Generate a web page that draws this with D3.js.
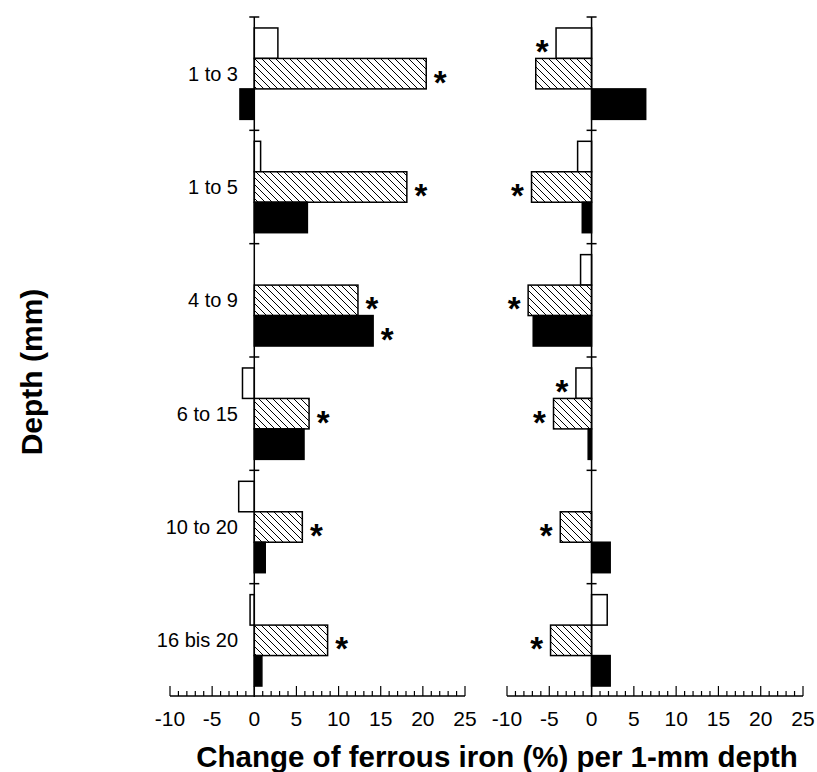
<!DOCTYPE html>
<html><head><meta charset="utf-8">
<script src="https://cdn.jsdelivr.net/npm/d3@7"></script>
<style>body{margin:0;background:#fff}svg{display:block}text{font-family:"Liberation Sans",Arial,Helvetica,sans-serif}</style>
</head><body>
<script>
const categories = ["1 to 3","1 to 5","4 to 9","6 to 15","10 to 20","16 bis 20"];
const series = ["open","hatched","solid"];
const leftOpen    = [2.8, 0.75, 0, -1.4, -1.85, -0.5];
const leftHatched = [20.4, 18.1, 12.3, 6.5, 5.7, 8.7];
const leftSolid   = [-1.7, 6.3, 14.1, 5.9, 1.3, 0.9];
const rightOpen    = [-4.2, -1.65, -1.3, -1.85, 0, 1.85];
const rightHatched = [-6.6, -7.1, -7.5, -4.5, -3.7, -4.85];
const rightSolid   = [6.4, -1.1, -6.9, -0.4, 2.2, 2.2];
const leftSig    = {open:[0,0,0,0,0,0], hatched:[1,1,1,1,1,1], solid:[0,0,1,0,0,0]};
const rightSig   = {open:[1,0,0,1,0,0], hatched:[0,1,1,1,1,1], solid:[0,0,0,0,0,0]};
const xTicks = [-10,-5,0,5,10,15,20,25];
const xTitle = "Change of ferrous iron (%) per 1-mm depth";
const yTitle = "Depth (mm)";

const W = 817, H = 772;
const svg = d3.select("body").append("svg").attr("width", W).attr("height", H);
const defs = svg.append("defs");
const pat = defs.append("pattern").attr("id","hatch").attr("patternUnits","userSpaceOnUse")
  .attr("width",7).attr("height",7);
pat.append("rect").attr("width",7).attr("height",7).attr("fill","#fff");
pat.append("path").attr("d","M0,0L7,7M-1,6L1,8M6,-1L8,1").attr("stroke","#000").attr("stroke-width",1);

const y0 = d3.scaleBand().domain(categories).range([17, 697]);
const y1 = d3.scaleBand().domain(series).range([0, y0.bandwidth()]).paddingOuter(0.36);
const fills = {open:"#fff", hatched:"url(#hatch)", solid:"#000"};

function panel(range, data, sig) {
  const x = d3.scaleLinear().domain([-10, 25]).range(range);
  const g = svg.append("g");
  const rows = [];
  categories.forEach((c, i) => series.forEach(s => rows.push({c, s, v: data[s][i], sig: sig[s][i]})));
  g.selectAll("rect.bar").data(rows).join("rect").attr("class","bar")
    .attr("x", d => x(Math.min(0, d.v)))
    .attr("width", d => Math.abs(x(d.v) - x(0)))
    .attr("y", d => y0(d.c) + y1(d.s))
    .attr("height", y1.bandwidth())
    .attr("fill", d => fills[d.s])
    .attr("stroke", "#000").attr("stroke-width", 1.5);
  g.append("line").attr("x1", x(0)).attr("x2", x(0)).attr("y1", 17).attr("y2", 697)
    .attr("stroke","#000").attr("stroke-width",1.5);
  g.selectAll("line.sep").data(categories).join("line").attr("class","sep")
    .attr("x1", x(0) - 5).attr("x2", x(0) + 5)
    .attr("y1", d => y0(d)).attr("y2", d => y0(d))
    .attr("stroke","#000").attr("stroke-width",1.5);
  g.selectAll("text.sig").data(rows.filter(d => d.sig)).join("text").attr("class","sig")
    .attr("x", d => d.v >= 0 ? x(d.v) + 14 : x(d.v) - 14)
    .attr("y", d => y0(d.c) + y1(d.s) + y1.bandwidth()/2 + 20)
    .attr("text-anchor","middle").attr("font-weight","bold").attr("font-size",33)
    .text("*");
  const ax = g.append("g").attr("transform","translate(0,696)");
  ax.append("line").attr("x1", x(-10)).attr("x2", x(25)).attr("stroke","#000").attr("stroke-width",1.5);
  const minor = d3.range(-10, 26, 1);
  ax.selectAll("line.t").data(minor).join("line").attr("class","t")
    .attr("x1", d => x(d)).attr("x2", d => x(d))
    .attr("y1", 0).attr("y2", d => d % 5 === 0 ? -10 : -5)
    .attr("stroke","#000").attr("stroke-width",1.2);
  ax.selectAll("text").data(xTicks).join("text")
    .attr("x", d => x(d)).attr("y", 30).attr("text-anchor","middle")
    .attr("font-size",21).text(d => d);
  return x;
}

panel([170, 465], {open:leftOpen, hatched:leftHatched, solid:leftSolid}, leftSig);
panel([507, 803], {open:rightOpen, hatched:rightHatched, solid:rightSolid}, rightSig);

svg.selectAll("text.cat").data(categories).join("text").attr("class","cat")
  .attr("x", 238).attr("y", d => y0(d) + y0.bandwidth()/2 + 7)
  .attr("text-anchor","end").attr("font-size",20).text(d => d);

svg.append("text").attr("x", 497).attr("y", 767).attr("text-anchor","middle")
  .attr("font-weight","bold").attr("font-size",29.5).text(xTitle);
svg.append("text").attr("transform","translate(42,372) rotate(-90)").attr("text-anchor","middle")
  .attr("font-weight","bold").attr("font-size",30).text(yTitle);
</script>
</body></html>
